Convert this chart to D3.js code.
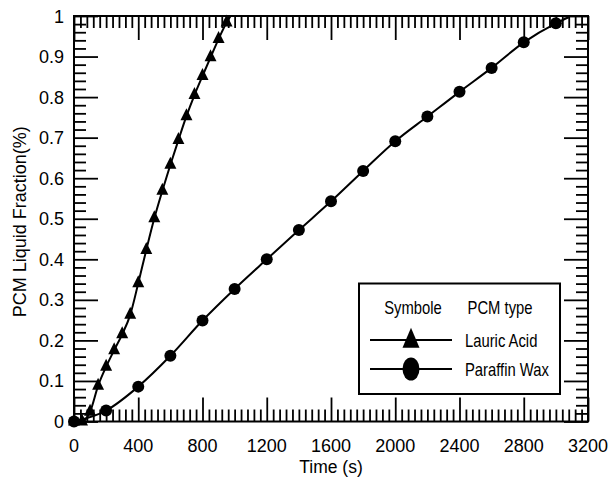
<!DOCTYPE html>
<html>
<head>
<meta charset="utf-8">
<script src="https://cdn.jsdelivr.net/npm/d3@7"></script>
<style>
  html, body { margin: 0; padding: 0; background: #fff; }
  svg { display: block; }
  .tick-label { font-family: "Liberation Sans", Arial, sans-serif; font-size: 18px; fill: #000; }
  .axis-title { font-family: "Liberation Sans", Arial, sans-serif; font-size: 18px; fill: #000; }
  .legend-text { font-family: "Liberation Sans", Arial, sans-serif; font-size: 18.5px; fill: #000; }
</style>
</head>
<body>
<svg id="chart" width="611" height="479"></svg>
<script>
// Melting time (s) and liquid fraction for each phase-change material
const lauricTime  = [0, 50, 100, 150, 200, 250, 300, 350, 400, 450, 500, 550, 600, 650, 700, 750, 800, 850, 900, 950];
const lauricFrac  = [0, 0, 0.024, 0.088, 0.135, 0.176, 0.215, 0.263, 0.341, 0.423, 0.501, 0.569, 0.633, 0.694, 0.753, 0.805, 0.852, 0.898, 0.943, 0.984];
const lauricEnd   = [975, 1.0];

const paraffinTime = [0, 200, 400, 600, 800, 1000, 1200, 1400, 1600, 1800, 2000, 2200, 2400, 2600, 2800, 3000];
const paraffinFrac = [0, 0.027, 0.086, 0.162, 0.249, 0.327, 0.400, 0.472, 0.543, 0.618, 0.691, 0.752, 0.813, 0.872, 0.935, 0.982];
const paraffinEnd  = [3080, 0.997];

const xTicks = [0, 400, 800, 1200, 1600, 2000, 2400, 2800, 3200];
const yTicks = [0, 0.1, 0.2, 0.3, 0.4, 0.5, 0.6, 0.7, 0.8, 0.9, 1];
const yTickLabels = ["0", "0.1", "0.2", "0.3", "0.4", "0.5", "0.6", "0.7", "0.8", "0.9", "1"];

const legendHeader = ["Symbole", "PCM type"];
const seriesNames = ["Lauric Acid", "Paraffin Wax"];

const svg = d3.select("#chart");
const plot = { left: 74, right: 588, top: 16, bottom: 421.5 };

const x = d3.scaleLinear().domain([0, 3200]).range([plot.left, plot.right]);
const y = d3.scaleLinear().domain([0, 1]).range([plot.bottom, plot.top]);

const majorLen = 24, minorLen = 12;
const tickW = 1.8;

// Minor tick positions
const xMinor = d3.range(0, 3200.001, 40).filter(v => v % 400 !== 0);
const yMinor = d3.range(0, 1.0001, 0.02).map(v => +v.toFixed(2)).filter(v => Math.abs(v * 10 - Math.round(v * 10)) > 1e-6);

// Inward-pointing ticks on all four sides using d3 axes
function inwardAxis(gen, transform, values, len) {
  const g = svg.append("g").attr("transform", transform)
    .call(gen.tickValues(values).tickSize(len).tickFormat(""));
  g.select(".domain").remove();
  g.selectAll(".tick line").attr("stroke", "#000").attr("stroke-width", tickW);
  return g;
}
inwardAxis(d3.axisTop(x), `translate(0,${plot.bottom})`, xTicks, majorLen);
inwardAxis(d3.axisTop(x), `translate(0,${plot.bottom})`, xMinor, minorLen);
inwardAxis(d3.axisBottom(x), `translate(0,${plot.top})`, xTicks, majorLen);
inwardAxis(d3.axisBottom(x), `translate(0,${plot.top})`, xMinor, minorLen);
inwardAxis(d3.axisRight(y), `translate(${plot.left},0)`, yTicks, majorLen);
inwardAxis(d3.axisRight(y), `translate(${plot.left},0)`, yMinor, minorLen);
inwardAxis(d3.axisLeft(y), `translate(${plot.right},0)`, yTicks, majorLen);
inwardAxis(d3.axisLeft(y), `translate(${plot.right},0)`, yMinor, minorLen);

// Tick labels
svg.append("g").selectAll("text").data(xTicks).join("text")
  .attr("class", "tick-label")
  .attr("x", d => x(d)).attr("y", 452)
  .attr("text-anchor", "middle")
  .text(d => d);

svg.append("g").selectAll("text").data(yTicks).join("text")
  .attr("class", "tick-label")
  .attr("x", 64).attr("y", d => y(d) + 6.5)
  .attr("text-anchor", "end")
  .text((d, i) => yTickLabels[i]);

// Axis titles
svg.append("text").attr("class", "axis-title")
  .attr("x", (plot.left + plot.right) / 2).attr("y", 473)
  .attr("text-anchor", "middle").style("font-size", "17.5px").text("Time (s)");

svg.append("text").attr("class", "axis-title")
  .attr("transform", `translate(26,${(plot.top + plot.bottom) / 2 + 3}) rotate(-90)`)
  .attr("text-anchor", "middle").text("PCM Liquid Fraction(%)");

// Curves
const line = d3.line().x(d => x(d[0])).y(d => y(d[1])).curve(d3.curveMonotoneX);
const lauricPts = lauricTime.map((t, i) => [t, lauricFrac[i]]);
const paraffinPts = paraffinTime.map((t, i) => [t, paraffinFrac[i]]);

svg.append("path").datum(lauricPts.concat([lauricEnd]))
  .attr("d", line).attr("fill", "none").attr("stroke", "#000").attr("stroke-width", 2);
svg.append("path").datum(paraffinPts.concat([paraffinEnd]))
  .attr("d", line).attr("fill", "none").attr("stroke", "#000").attr("stroke-width", 2);

// Markers
const tri = (cx, cy, w, h) => `M${cx - w / 2},${cy + h / 3} L${cx + w / 2},${cy + h / 3} L${cx},${cy - 2 * h / 3} Z`;

svg.append("g").selectAll("path").data(lauricPts).join("path")
  .attr("d", d => tri(x(d[0]), y(d[1]), 12, 12)).attr("fill", "#000");

svg.append("g").selectAll("circle").data(paraffinPts).join("circle")
  .attr("cx", d => x(d[0])).attr("cy", d => y(d[1])).attr("r", 6).attr("fill", "#000");

// Frame
svg.append("rect")
  .attr("x", plot.left).attr("y", plot.top)
  .attr("width", plot.right - plot.left).attr("height", plot.bottom - plot.top)
  .attr("fill", "none").attr("stroke", "#000").attr("stroke-width", 2);

// Legend (condensed lettering)
const lg = svg.append("g");
lg.append("rect").attr("x", 359).attr("y", 283.5).attr("width", 201).attr("height", 110.5)
  .attr("fill", "#fff").attr("stroke", "#000").attr("stroke-width", 2);

function legendText(tx, ty, anchor, str) {
  lg.append("text").attr("class", "legend-text")
    .attr("transform", `translate(${tx},${ty}) scale(0.8,1)`)
    .attr("text-anchor", anchor).text(str);
}
legendText(413, 314, "middle", legendHeader[0]);
legendText(500, 314, "middle", legendHeader[1]);

const rows = [340, 369];
rows.forEach((ry, i) => {
  lg.append("line").attr("x1", 370).attr("x2", 452).attr("y1", ry).attr("y2", ry)
    .attr("stroke", "#000").attr("stroke-width", 2);
  legendText(465, ry + 7, "start", seriesNames[i]);
});
lg.append("path").attr("d", tri(411, 341, 17, 20)).attr("fill", "#000");
lg.append("ellipse").attr("cx", 411).attr("cy", 369).attr("rx", 8.5).attr("ry", 11.5).attr("fill", "#000");
</script>
</body>
</html>
